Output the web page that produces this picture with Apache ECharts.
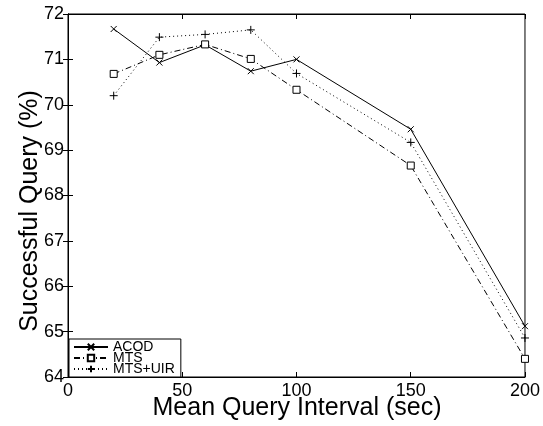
<!DOCTYPE html>
<html><head><meta charset="utf-8">
<script src="https://cdn.jsdelivr.net/npm/echarts@6/dist/echarts.min.js"></script>
<style>html,body{margin:0;padding:0;background:#fff}#c{width:543px;height:426px}</style>
</head><body><div id="c"></div>
<script>
const xValues = [20, 40, 60, 80, 100, 150, 200];
const acod = [71.67, 70.93, 71.32, 70.74, 71.0, 69.46, 65.12];
const mts = [70.68, 71.10, 71.33, 71.01, 70.33, 68.66, 64.40];
const mtsUir = [70.20, 71.49, 71.55, 71.65, 70.69, 69.17, 64.86];
const seriesNames = ['ACOD', 'MTS', 'MTS+UIR'];
const xTitle = 'Mean Query Interval (sec)';
const yTitle = 'Successful Query (%)';

const F = '"Liberation Sans", Arial, Helvetica, sans-serif';
const xSym = 'path://M0,0L10,10M10,0L0,10';
const pSym = 'path://M5,0L5,10M0,5L10,5';
function pairs(arr){ return xValues.map((x,i)=>[x,arr[i]]); }
const chart = echarts.init(document.getElementById('c'), null, {renderer:'canvas'});
const axLine = {show:true, lineStyle:{color:'#000', width:1}};
const tick = {show:true, inside:true, length:5, lineStyle:{color:'#000'}};
chart.setOption({
  animation:false,
  backgroundColor:'#fff',
  grid:{left:68, right:15, top:14, bottom:49, show:true, borderColor:'#000', borderWidth:1},
  legend:{
    orient:'vertical', left:69, top:339,
    backgroundColor:'#fff', borderColor:'#000', borderWidth:1,
    padding:[1,6,1,4], itemGap:-3, itemWidth:34, itemHeight:8,
    textStyle:{fontFamily:F, fontSize:14, color:'#000'},
    data:seriesNames
  },
  graphic:[
    {type:'text', silent:true, x:30, y:211, rotation:Math.PI/2,
     style:{text:yTitle, font:'25px '+F, fill:'#000', align:'center', verticalAlign:'middle'}},
    {type:'text', silent:true, x:297, y:408,
     style:{text:xTitle, font:'25px '+F, fill:'#000', align:'center', verticalAlign:'middle'}}
  ],
  xAxis:[{
    type:'value', min:0, max:200, interval:50,
    axisLine:axLine, axisTick:tick,
    axisLabel:{fontFamily:F, fontSize:18, color:'#000', margin:5},
    splitLine:{show:false}
  },{
    type:'value', min:0, max:200, interval:50, position:'top',
    axisLine:axLine, axisTick:tick,
    axisLabel:{show:false}, splitLine:{show:false}
  }],
  yAxis:[{
    type:'value', min:64, max:72, interval:1,
    axisLine:axLine, axisTick:tick,
    axisLabel:{fontFamily:F, fontSize:18, color:'#000', margin:4},
    splitLine:{show:false}
  },{
    type:'value', min:64, max:72, interval:1, position:'right',
    axisLine:axLine, axisTick:tick,
    axisLabel:{show:false}, splitLine:{show:false}
  }],
  series:[
    {name:seriesNames[0], type:'line', data:pairs(acod), symbol:xSym, symbolSize:6,
     lineStyle:{color:'#000', width:1, type:'solid'},
     itemStyle:{color:'none', borderColor:'#000', borderWidth:1}},
    {name:seriesNames[1], type:'line', data:pairs(mts), symbol:'rect', symbolSize:7,
     lineStyle:{color:'#000', width:1, type:[6,3,1,3]},
     itemStyle:{color:'#fff', borderColor:'#000', borderWidth:1}},
    {name:seriesNames[2], type:'line', data:pairs(mtsUir), symbol:pSym, symbolSize:8,
     lineStyle:{color:'#000', width:1, type:[1,3]},
     itemStyle:{color:'none', borderColor:'#000', borderWidth:1}}
  ]
});
</script></body></html>
